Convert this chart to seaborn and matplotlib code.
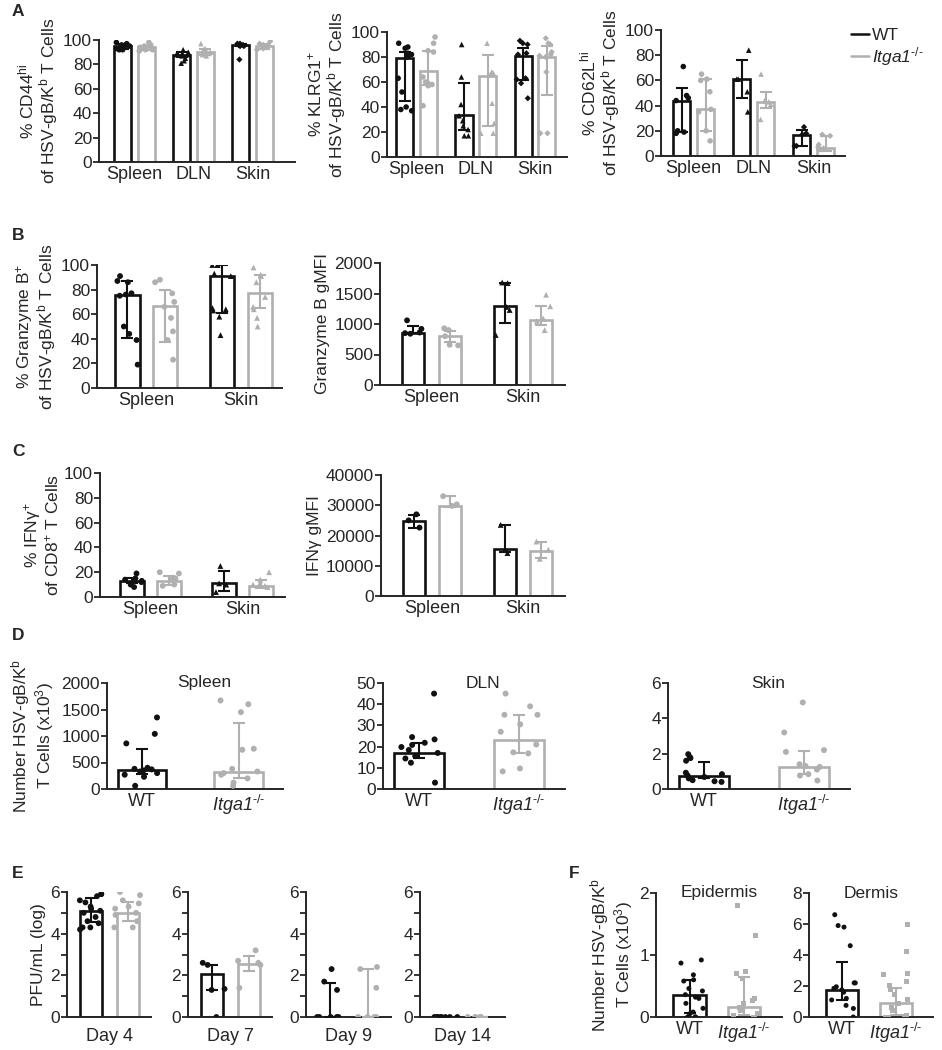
import matplotlib
matplotlib.use("Agg")
import matplotlib.pyplot as plt
from matplotlib.lines import Line2D
from matplotlib.ticker import MultipleLocator
import numpy as np
import pandas as pd
import seaborn as sns

sns.set_style("ticks")
plt.rcParams["font.family"] = ["Liberation Sans", "DejaVu Sans"]
plt.rcParams["mathtext.fontset"] = "custom"
plt.rcParams["mathtext.rm"] = "Liberation Sans"
plt.rcParams["mathtext.it"] = "Liberation Sans:italic"
plt.rcParams["mathtext.default"] = "regular"
plt.rcParams["axes.linewidth"] = 1.4
np.random.seed(7)

BLACK = "#111111"
GREY = "#b0b0b0"
GENO = ["WT", "Itga1-/-"]
PAL = {"WT": BLACK, "Itga1-/-": GREY}
KO_LABEL = "Itga1$^{\\text{-/-}}$"
W, H = 942, 1050
FS = 12.5

tissues3 = ["Spleen", "DLN", "Skin"]
tissues2 = ["Spleen", "Skin"]
markers3 = ["o", "^", "D"]
markers2 = ["o", "^"]

# ---- A: CD44hi, KLRG1+, CD62Lhi
cd44_bar = {"WT": [95, 88, 96], "Itga1-/-": [94, 90, 95]}
cd44_err = {"WT": [(93, 97), (86, 90), (95, 97)], "Itga1-/-": [(92, 95), (88, 93), (93, 97)]}
cd44_pts = {"WT": [[98, 97, 96, 96, 95, 95, 94, 93, 92, 92],
                   [92, 90, 89, 89, 88, 88, 87, 85, 83, 81],
                   [97, 97, 96, 96, 96, 95, 95, 84]],
            "Itga1-/-": [[98, 96, 95, 94, 94, 93, 93, 92, 92, 91],
                         [97, 93, 92, 91, 90, 90, 89, 88, 87],
                         [99, 97, 96, 96, 95, 94, 94, 93, 92]]}

klrg1_bar = {"WT": [79, 34, 81], "Itga1-/-": [69, 65, 80]}
klrg1_err = {"WT": [(45, 84), (22, 59), (62, 87)], "Itga1-/-": [(58, 85), (25, 82), (50, 89)]}
klrg1_pts = {"WT": [[91, 88, 87, 83, 82, 80, 63, 52, 40, 38, 37],
                    [90, 64, 42, 33, 29, 25, 22, 17, 17],
                    [93, 91, 90, 83, 82, 63, 62, 59, 47]],
             "Itga1-/-": [[96, 91, 85, 84, 64, 60, 59, 58, 57, 41],
                          [91, 68, 67, 66, 43, 27, 19, 19],
                          [95, 91, 90, 84, 82, 81, 80, 68, 19, 19]]}

cd62l_bar = {"WT": [44, 61, 17], "Itga1-/-": [37, 43, 6]}
cd62l_err = {"WT": [(19, 54), (46, 76), (8, 21)], "Itga1-/-": [(20, 61), (38, 51), (4, 16)]}
cd62l_pts = {"WT": [[71, 48, 46, 44, 20, 19, 18],
                    [84, 61, 61, 51, 35],
                    [23, 18, 17, 8, 8]],
             "Itga1-/-": [[65, 61, 60, 51, 37, 35, 20, 12],
                          [65, 44, 43, 41, 29],
                          [17, 16, 9, 7, 6, 5]]}

# ---- B: Granzyme B
gzmb_bar = {"WT": [76, 91], "Itga1-/-": [67, 77]}
gzmb_err = {"WT": [(41, 87), (61, 100)], "Itga1-/-": [(37, 80), (65, 92)]}
gzmb_pts = {"WT": [[91, 87, 86, 77, 76, 75, 50, 44, 39, 19],
                   [100, 100, 100, 93, 91, 65, 64, 63, 58, 43]],
            "Itga1-/-": [[88, 86, 77, 70, 66, 57, 46, 39, 23],
                         [98, 92, 91, 86, 74, 66, 64, 57, 50]]}

gzmb_mfi_bar = {"WT": [855, 1300], "Itga1-/-": [800, 1070]}
gzmb_mfi_err = {"WT": [(845, 975), (1020, 1680)], "Itga1-/-": [(700, 890), (980, 1290)]}
gzmb_mfi_pts = {"WT": [[1060, 920, 860, 850, 840], [1680, 1670, 1280, 1230, 820]],
                "Itga1-/-": [[930, 900, 800, 660, 650], [1480, 1290, 1090, 1050, 900]]}

# ---- C: IFNg
ifng_bar = {"WT": [13, 11], "Itga1-/-": [13, 9]}
ifng_err = {"WT": [(11, 15), (5, 21)], "Itga1-/-": [(10, 17), (7, 14)]}
ifng_pts = {"WT": [[19, 15, 14, 13, 12, 10, 8], [25, 11, 10, 4]],
            "Itga1-/-": [[20, 19, 15, 14, 10, 9], [20, 14, 11, 10, 9, 8]]}

ifng_mfi_bar = {"WT": [24800, 15500], "Itga1-/-": [29700, 15000]}
ifng_mfi_err = {"WT": [(22500, 26800), (14500, 23500)], "Itga1-/-": [(29500, 33000), (12500, 18000)]}
ifng_mfi_pts = {"WT": [[27000, 25000, 22600], [23500, 15500, 14200]],
                "Itga1-/-": [[33000, 30300, 29800], [18000, 15300, 12300]]}

# ---- D: numbers (x10^3)
num_titles = ["Spleen", "DLN", "Skin"]
num_ylim = [2000, 50, 6]
num_ticks = [500, 10, 2]
num_bar = {"WT": [360, 17.2, 0.75], "Itga1-/-": [330, 23, 1.25]}
num_err = {"WT": [(280, 750), (14.5, 21.5), (0.6, 1.52)],
           "Itga1-/-": [(200, 1240), (17, 34.7), (0.85, 2.15)]}
num_pts = {"WT": [[1350, 1040, 860, 400, 380, 370, 350, 330, 300, 270, 230, 60],
                  [45, 24.5, 23.4, 21.8, 20.8, 19.8, 18.4, 17, 15.5, 14.4, 12.4, 3],
                  [1.97, 1.8, 1.75, 1.6, 0.92, 0.84, 0.76, 0.68, 0.6, 0.5, 0.44, 0.4]],
           "Itga1-/-": [[1670, 1600, 1450, 760, 740, 380, 330, 300, 270, 200, 120, 60],
                        [45, 39, 35, 35, 30.5, 27, 21, 17.3, 16.8, 9.7, 8.3],
                        [4.9, 3.2, 2.2, 2.1, 1.4, 1.3, 1.25, 1.1, 0.84, 0.76, 0.48]]}

# ---- E: viral titres
days = ["Day 4", "Day 7", "Day 9", "Day 14"]
pfu_bar = {"WT": [5.1, 2.05, 0, 0], "Itga1-/-": [5.0, 2.55, 0, 0]}
pfu_err = {"WT": [(4.55, 5.7), (1.3, 2.5), (0, 1.65), (0, 0)],
           "Itga1-/-": [(4.6, 5.5), (2.2, 2.95), (0, 2.3), (0, 0)]}
pfu_pts = {"WT": [[5.9, 5.9, 5.8, 5.6, 5.5, 5.3, 5.2, 5.1, 5.0, 4.8, 4.6, 4.5, 4.3, 4.3, 4.2],
                  [2.6, 2.5, 1.35, 1.3, 0.0],
                  [2.3, 1.7, 1.3, 0, 0, 0, 0, 0],
                  [0, 0, 0, 0, 0, 0, 0, 0]],
           "Itga1-/-": [[6.0, 5.85, 5.6, 5.45, 5.3, 5.2, 5.0, 4.9, 4.6, 4.3, 4.3],
                        [3.2, 2.7, 2.6, 2.5, 1.4],
                        [2.4, 2.3, 1.4, 0, 0, 0, 0],
                        [0, 0, 0, 0, 0, 0]]}

# ---- F: skin compartments
skin_titles = ["Epidermis", "Dermis"]
skin_ylim = [2, 8]
skin_ticks = [1, 2]
skin_bar = {"WT": [0.36, 1.75], "Itga1-/-": [0.16, 0.9]}
skin_err = {"WT": [(0.07, 0.6), (1.1, 3.55)], "Itga1-/-": [(0.04, 0.64), (0.15, 1.9)]}
skin_pts = {"WT": [[0.92, 0.87, 0.68, 0.6, 0.58, 0.46, 0.42, 0.36, 0.32, 0.3, 0.22, 0.14, 0.08, 0.05, 0, 0, 0],
                   [6.6, 5.9, 5.8, 4.6, 2.2, 2.2, 1.95, 1.85, 1.75, 1.6, 1.2, 1.1, 0.75, 0.55, 0]],
            "Itga1-/-": [[1.8, 1.32, 0.74, 0.7, 0.62, 0.3, 0.27, 0.22, 0.15, 0.11, 0.05, 0.03, 0, 0],
                         [6.0, 4.25, 2.8, 2.75, 2.3, 2.05, 1.8, 1.45, 1.1, 0.85, 0.6, 0.45, 0.1, 0.05, 0, 0]]}


def axes_at(fig, x0, x1, ytop, ybot):
    return fig.add_axes([x0 / W, 1 - ybot / H, (x1 - x0) / W, (ybot - ytop) / H])


def style(ax, fs=FS):
    sns.despine(ax=ax)
    ax.tick_params(axis="y", length=4, width=1.3, labelsize=fs, pad=1)
    ax.tick_params(axis="x", length=0, labelsize=fs + 0.5, pad=3)


def err(ax, x, b, lohi, color):
    lo, hi = lohi
    ax.errorbar(x, b, yerr=[[b - lo], [hi - b]], fmt="none", ecolor=color,
                elinewidth=1.5, capsize=4.5, capthick=1.5, zorder=5)


def grouped(ax, cats, bars, errs, pts, markers, gap=0.38, jitter=0.22, size=4.2):
    bar_df = pd.DataFrame({"cat": cats * 2,
                           "geno": [g for g in GENO for _ in cats],
                           "val": bars["WT"] + bars["Itga1-/-"]})
    sns.barplot(data=bar_df, x="cat", y="val", hue="geno", order=cats, hue_order=GENO,
                palette=PAL, fill=False, linewidth=1.9, width=0.8, gap=gap,
                errorbar=None, legend=False, ax=ax)
    for i, cat in enumerate(cats):
        rows = [(cat, g, v) for g in GENO for v in pts[g][i]]
        df = pd.DataFrame(rows, columns=["cat", "geno", "val"])
        m = markers[i]
        sns.stripplot(data=df, x="cat", y="val", hue="geno", order=cats, hue_order=GENO,
                      palette=PAL, dodge=True, jitter=jitter, marker=m,
                      size=size * (0.8 if m == "D" else 1), linewidth=0,
                      legend=False, ax=ax, zorder=4)
        for j, g in enumerate(GENO):
            err(ax, i + (j - 0.5) * 0.4, bars[g][i], errs[g][i], PAL[g])
    ax.set_xlabel("")


def by_geno(ax, k, bars, errs, pts, markers=("o", "o"), size=4.2, width=0.5, jitter=0.22):
    bar_df = pd.DataFrame({"geno": GENO, "val": [bars[g][k] for g in GENO]})
    sns.barplot(data=bar_df, x="geno", y="val", hue="geno", order=GENO, hue_order=GENO,
                palette=PAL, fill=False, linewidth=1.9, width=width,
                errorbar=None, legend=False, ax=ax)
    for j, g in enumerate(GENO):
        df = pd.DataFrame({"geno": g, "val": pts[g][k]})
        sns.stripplot(data=df, x="geno", y="val", hue="geno", order=GENO, hue_order=GENO,
                      palette=PAL, jitter=jitter, marker=markers[j], size=size,
                      linewidth=0, legend=False, ax=ax, zorder=4)
        err(ax, j, bars[g][k], errs[g][k], PAL[g])
    ax.set_xlabel("")
    ax.set_xticks([0, 1])
    labs = ax.set_xticklabels(["WT", KO_LABEL])
    labs[1].set_style("italic")


fig = plt.figure(figsize=(W / 100, H / 100), dpi=100)

# ---------------- A
a_specs = [
    (99, 295, 40, 162, cd44_bar, cd44_err, cd44_pts, (-0.6, 2.72),
     "% CD44$^{hi}$\nof HSV-gB/K$^{b}$ T Cells"),
    (387, 567, 32, 157, klrg1_bar, klrg1_err, klrg1_pts, (-0.5, 2.54),
     "% KLRG1$^{+}$\nof HSV-gB/K$^{b}$ T Cells"),
    (661, 845, 30, 156, cd62l_bar, cd62l_err, cd62l_pts, (-0.545, 2.525),
     "% CD62L$^{hi}$\nof HSV-gB/K$^{b}$ T Cells"),
]
for x0, x1, yt, yb, bars, errs, pts, xl, ylab in a_specs:
    ax = axes_at(fig, x0, x1, yt, yb)
    grouped(ax, tissues3, bars, errs, pts, markers3, gap=0.28, jitter=0.25, size=4.0)
    ax.set_ylim(0, 100)
    ax.set_yticks(range(0, 101, 20))
    ax.set_xlim(*xl)
    ax.set_ylabel(ylab, fontsize=FS, linespacing=1.05, labelpad=2)
    style(ax)

handles = [Line2D([], [], color=BLACK, lw=1.8), Line2D([], [], color=GREY, lw=1.8)]
leg = fig.legend(handles, ["WT", KO_LABEL], loc="upper left", bbox_to_anchor=(848 / W, 1 - 24 / H),
                 frameon=False, fontsize=12.5, handlelength=1.0, handletextpad=0.2,
                 labelspacing=0.15, borderaxespad=0, borderpad=0.2)
leg.get_texts()[1].set_style("italic")

# ---------------- B
ax = axes_at(fig, 97, 282, 265, 388)
grouped(ax, tissues2, gzmb_bar, gzmb_err, gzmb_pts, markers2, gap=0.36)
ax.set_ylim(0, 100)
ax.set_yticks(range(0, 101, 20))
ax.set_xlim(-0.52, 1.43)
ax.set_ylabel("% Granzyme B$^{+}$\nof HSV-gB/K$^{b}$ T Cells", fontsize=FS, linespacing=1.05, labelpad=2)
style(ax)

ax = axes_at(fig, 380, 565, 263, 385)
grouped(ax, tissues2, gzmb_mfi_bar, gzmb_mfi_err, gzmb_mfi_pts, markers2, gap=0.4)
ax.set_ylim(0, 2000)
ax.set_yticks(range(0, 2001, 500))
ax.set_xlim(-0.56, 1.46)
ax.set_ylabel("Granzyme B gMFI", fontsize=FS, labelpad=3)
style(ax)

# ---------------- C
ax = axes_at(fig, 100, 285, 473, 597)
grouped(ax, tissues2, ifng_bar, ifng_err, ifng_pts, markers2, gap=0.36)
ax.set_ylim(0, 100)
ax.set_yticks(range(0, 101, 20))
ax.set_xlim(-0.55, 1.46)
ax.set_ylabel("% IFNγ$^{+}$\nof CD8$^{+}$ T Cells", fontsize=FS, linespacing=1.05, labelpad=2)
style(ax)

ax = axes_at(fig, 381, 565, 475, 596)
grouped(ax, tissues2, ifng_mfi_bar, ifng_mfi_err, ifng_mfi_pts, markers2, gap=0.4)
ax.set_ylim(0, 40000)
ax.set_yticks(range(0, 40001, 10000))
ax.set_xlim(-0.56, 1.46)
ax.set_ylabel("IFNγ gMFI", fontsize=FS, labelpad=3)
style(ax)

# ---------------- D
d_x = [(107, 283), (383, 565), (668, 850)]
for k, (x0, x1) in enumerate(d_x):
    ax = axes_at(fig, x0, x1, 683, 789)
    by_geno(ax, k, num_bar, num_err, num_pts, size=4.3, width=0.5, jitter=0.2)
    ax.set_ylim(0, num_ylim[k])
    ax.yaxis.set_major_locator(MultipleLocator(num_ticks[k]))
    ax.set_xlim(-0.36, 1.46)
    ax.set_ylabel("")
    ax.text(0.55, 1.0, num_titles[k], transform=ax.transAxes, ha="center", va="center",
            fontsize=FS)
    style(ax)
    if k == 0:
        ax.set_ylabel("Number HSV-gB/K$^{b}$\nT Cells (x10$^{3}$)", fontsize=FS,
                      linespacing=1.05, labelpad=4)

# ---------------- E
e_x = [(67, 151), (188, 272), (306, 391), (420, 505)]
for k, (x0, x1) in enumerate(e_x):
    ax = axes_at(fig, x0, x1, 892, 1017)
    sub_bar = {g: [pfu_bar[g][k]] for g in GENO}
    sub_err = {g: [pfu_err[g][k]] for g in GENO}
    sub_pts = {g: [pfu_pts[g][k]] for g in GENO}
    grouped(ax, [days[k]], sub_bar, sub_err, sub_pts, ["o"], gap=0.4, jitter=0.3, size=4.2)
    ax.set_ylim(0, 6)
    ax.yaxis.set_major_locator(MultipleLocator(2))
    ax.yaxis.set_minor_locator(MultipleLocator(1))
    ax.set_xlim(-0.46, 0.45)
    ax.set_ylabel("PFU/mL (log)" if k == 0 else "", fontsize=FS, labelpad=3)
    style(ax)
    ax.tick_params(axis="y", which="minor", length=4, width=1.3)
    ax.tick_params(axis="x", pad=8)

# ---------------- F
f_x = [(656, 782), (809, 933)]
for k, (x0, x1) in enumerate(f_x):
    ax = axes_at(fig, x0, x1, 893, 1017)
    by_geno(ax, k, skin_bar, skin_err, skin_pts, markers=("o", "s"), size=3.6, width=0.6,
            jitter=0.25)
    ax.set_ylim(0, skin_ylim[k])
    ax.yaxis.set_major_locator(MultipleLocator(skin_ticks[k]))
    ax.set_xlim(-0.62, 1.7)
    ax.set_ylabel("")
    ax.text(0.5, 1.0, skin_titles[k], transform=ax.transAxes, ha="center", va="center", fontsize=FS)
    style(ax)
    if k == 0:
        ax.set_ylabel("Number HSV-gB/K$^{b}$\nT Cells (x10$^{3}$)", fontsize=FS,
                      linespacing=1.05, labelpad=3)

# panel letters
for lab, x, y in [("A", 12, 12), ("B", 12, 236), ("C", 12, 452), ("D", 12, 636),
                  ("E", 12, 873), ("F", 569, 873)]:
    fig.text(x / W, 1 - y / H, lab, fontsize=12.5, fontweight="bold", ha="left", va="center")

fig.savefig("out.png", dpi=100)
